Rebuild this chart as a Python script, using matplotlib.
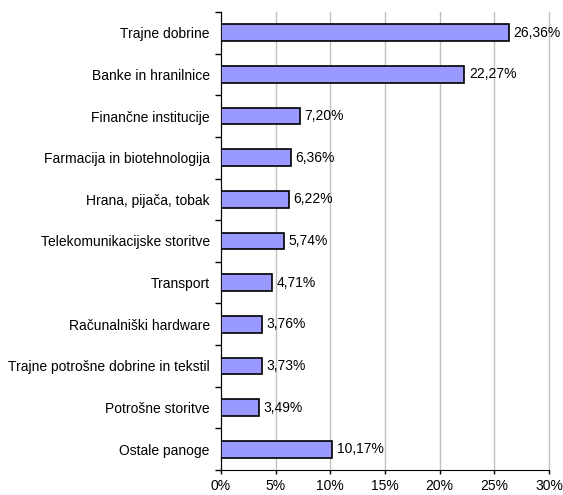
import numpy as np
import matplotlib
matplotlib.use('Agg')
import matplotlib.pyplot as plt

plt.rcParams['font.family'] = ['Liberation Sans', 'DejaVu Sans']

categories = ['Trajne dobrine', 'Banke in hranilnice', 'Finančne institucije',
              'Farmacija in biotehnologija', 'Hrana, pijača, tobak',
              'Telekomunikacijske storitve', 'Transport', 'Računalniški hardware',
              'Trajne potrošne dobrine in tekstil', 'Potrošne storitve', 'Ostale panoge']
values = [26.36, 22.27, 7.20, 6.36, 6.22, 5.74, 4.71, 3.76, 3.73, 3.49, 10.17]
xticks = [0, 5, 10, 15, 20, 25, 30]

fig = plt.figure(figsize=(5.63, 4.95), dpi=100)
ax = fig.add_axes([0.3925, 0.0505, 0.5825, 0.9253])

y = np.arange(len(categories))
ax.barh(y, values, height=0.4, color='#9999FF', edgecolor='black', linewidth=1.2, zorder=3)
for yi, v in zip(y, values):
    ax.text(v + 0.4, yi, ('%.2f%%' % v).replace('.', ','), va='center', ha='left', fontsize=10)

ax.set_ylim(len(categories) - 0.5, -0.5)
ax.set_yticks(y)
ax.set_yticklabels(categories, fontsize=10)
ax.set_yticks(np.arange(-0.5, len(categories), 1), minor=True)
ax.tick_params(axis='y', which='major', length=0, pad=8)
ax.tick_params(axis='y', which='minor', length=4, width=1)

ax.set_xlim(0, 30)
ax.set_xticks(xticks)
ax.set_xticklabels(['%d%%' % t for t in xticks], fontsize=10)
ax.tick_params(axis='x', length=3, width=1)
ax.grid(axis='x', color='#c0c0c0', linewidth=1, zorder=0)
for gl in ax.get_xgridlines():
    gl.set_clip_on(False)

ax.spines['top'].set_visible(False)
ax.spines['right'].set_visible(False)

plt.savefig('out.png', dpi=100)
